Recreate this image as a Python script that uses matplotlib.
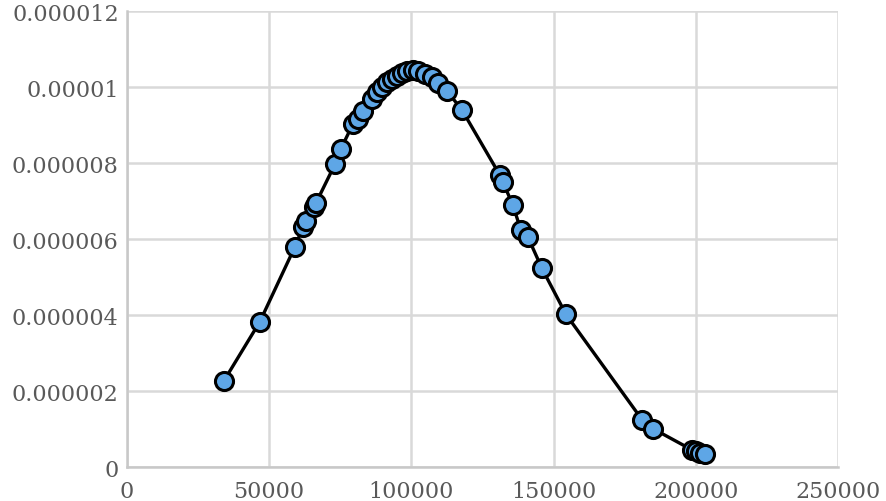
import matplotlib
matplotlib.use("Agg")
import matplotlib.pyplot as plt
from matplotlib.ticker import FixedLocator

x = [34100, 46760, 59070, 61880, 62940, 65750, 66450, 73130, 75240,
     79460, 81220, 82980, 86140, 87900, 89660, 91420, 93170, 94930,
     96690, 98450, 100560, 102320, 104780, 107240, 109350, 112510, 117790,
     131150, 132200, 135720, 138530, 140990, 145910, 154350,
     181070, 184940, 198700, 200100, 201500, 203200]
y = [2.27e-6, 3.83e-6, 5.80e-6, 6.31e-6, 6.47e-6, 6.85e-6, 6.95e-6, 7.97e-6, 8.38e-6,
     9.03e-6, 9.16e-6, 9.37e-6, 9.69e-6, 9.87e-6, 1.000e-5, 1.014e-5, 1.022e-5, 1.029e-5,
     1.037e-5, 1.042e-5, 1.044e-5, 1.043e-5, 1.035e-5, 1.027e-5, 1.011e-5, 9.90e-6, 9.40e-6,
     7.68e-6, 7.50e-6, 6.89e-6, 6.23e-6, 6.05e-6, 5.23e-6, 4.02e-6,
     1.25e-6, 1.01e-6, 0.45e-6, 0.42e-6, 0.37e-6, 0.34e-6]

xticks = [0, 50000, 100000, 150000, 200000, 250000]
yticks = [0, 0.000002, 0.000004, 0.000006, 0.000008, 0.00001, 0.000012]
ylabels = ["0", "0.000002", "0.000004", "0.000006", "0.000008", "0.00001", "0.000012"]

plt.rcParams['font.family'] = ['DejaVu Serif']

fig = plt.figure(figsize=(8.86, 5.02), dpi=100)
ax = fig.add_axes([0.1433, 0.0677, 0.8025, 0.908])

ax.plot(x, y, color='black', lw=2.4, marker='o', markersize=13,
        markerfacecolor='#5ea6e6', markeredgecolor='black', markeredgewidth=2.2,
        zorder=3, clip_on=False)

ax.set_xlim(0, 250000)
ax.set_ylim(0, 0.000012)
ax.xaxis.set_major_locator(FixedLocator(xticks))
ax.set_xticklabels([str(t) for t in xticks])
ax.yaxis.set_major_locator(FixedLocator(yticks))
ax.set_yticklabels(ylabels)

ax.grid(True, color='#d9d9d9', lw=1.8)
ax.set_axisbelow(True)
for s in ['top', 'right']:
    ax.spines[s].set_visible(False)
ax.spines['left'].set_color('#c8c8c8')
ax.spines['bottom'].set_color('#c8c8c8')
ax.spines['left'].set_linewidth(1.8)
ax.spines['bottom'].set_linewidth(1.8)
ax.tick_params(length=0, labelsize=16, colors='#595959', pad=6)
ax.tick_params(axis='x', pad=9)

fig.savefig('out.png', dpi=100)
